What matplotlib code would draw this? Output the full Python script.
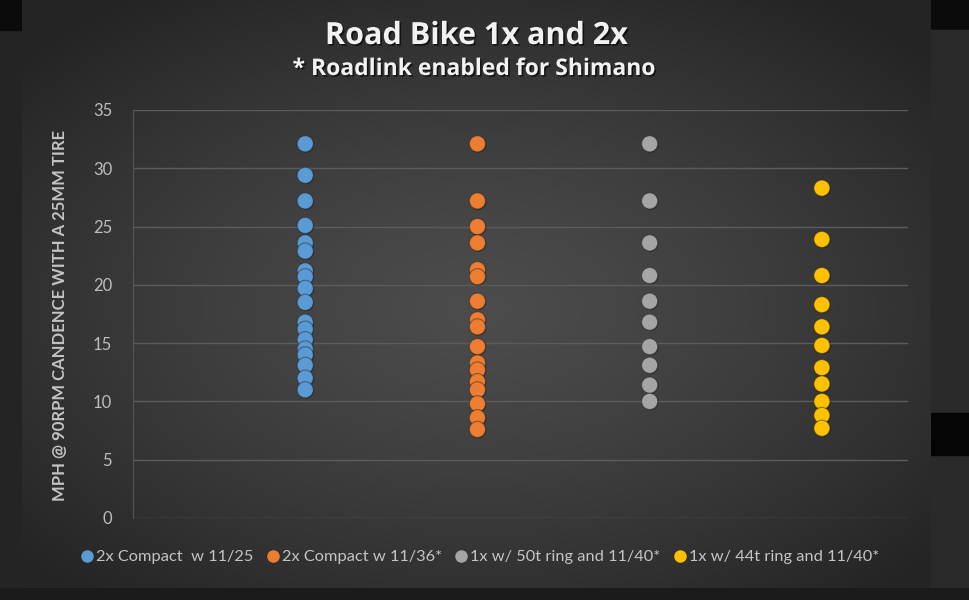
import numpy as np
import matplotlib
matplotlib.use("Agg")
import matplotlib.pyplot as plt
import matplotlib.patheffects as pe
from matplotlib.lines import Line2D
from matplotlib.patches import Rectangle

# ---------------- data ----------------
series_names = ["2x Compact  w 11/25", "2x Compact w 11/36*",
                "1x w/ 50t ring and 11/40*", "1x w/ 44t ring and 11/40*"]
series_x = [1, 2, 3, 4]
compact_11_25 = [32.1, 29.4, 27.2, 25.1, 23.6, 22.9, 21.2, 20.7, 19.7, 18.5,
                 16.8, 16.2, 15.3, 14.5, 14.0, 13.1, 12.0, 11.0]
compact_11_36 = [32.1, 27.2, 25.0, 23.6, 21.3, 20.7, 18.6, 17.0, 16.4, 14.7,
                 13.3, 12.7, 11.7, 11.0, 9.8, 8.6, 7.6]
one_x_50t = [32.1, 27.2, 23.6, 20.8, 18.6, 16.8, 14.7, 13.1, 11.4, 10.0]
one_x_44t = [28.3, 23.9, 20.8, 18.3, 16.4, 14.8, 12.9, 11.5, 10.0, 8.8, 7.7]
series_values = [compact_11_25, compact_11_36, one_x_50t, one_x_44t]
series_colors = ["#5B9BD5", "#ED7D31", "#A5A5A5", "#FFC000"]
y_ticks = [0, 5, 10, 15, 20, 25, 30, 35]

title = "Road Bike 1x and 2x"
subtitle = "* Roadlink enabled for Shimano"
y_label = "MPH @ 90RPM CANDENCE WITH A 25MM TIRE"

FONT = ["Lato", "DejaVu Sans"]
TFONT = ["Open Sans", "DejaVu Sans"]
W, H = 970, 600

fig = plt.figure(figsize=(W / 100, H / 100), dpi=100, facecolor="#242424")

# page background pieces outside the chart panel
def fig_rect(x0, y0, x1, y1, color):
    fig.patches.append(Rectangle((x0 / W, 1 - y1 / H), (x1 - x0) / W, (y1 - y0) / H,
                                 transform=fig.transFigure, color=color, zorder=-10))

fig_rect(0, 0, W, 30, "#0b0b0b")
fig_rect(930, 30, W, 600, "#2a2a2a")
fig_rect(930, 413, W, 455, "#050505")
fig_rect(0, 588, W, 600, "#1b1b1b")

# chart panel with radial gradient
px0, py0, px1, py1 = 22, 0, 931, 588
bg = fig.add_axes([px0 / W, 1 - py1 / H, (px1 - px0) / W, (py1 - py0) / H], zorder=-5)
gx = np.linspace(-1, 1, 400)
gy = np.linspace(-1, 1, 300)
GX, GY = np.meshgrid(gx, gy)
R = np.sqrt((GX * 1.0) ** 2 + ((GY - 0.05) * 1.05) ** 2)
R = np.clip(R / 1.35, 0, 1)
inner = np.array([0x4c, 0x4c, 0x4c]) / 255
outer = np.array([0x24, 0x24, 0x24]) / 255
img = inner[None, None, :] * (1 - R[..., None] ** 1.3) + outer[None, None, :] * (R[..., None] ** 1.3)
bg.imshow(img, aspect="auto", extent=[0, 1, 0, 1], interpolation="bilinear")
bg.set_axis_off()

# plot area
ax = fig.add_axes([133 / W, (H - 518) / H, 775 / W, 408 / H])
ax.set_facecolor("none")
ax.set_xlim(0, 4.5)
ax.set_ylim(0, 35)
ax.set_yticks(y_ticks)
ax.set_yticklabels([str(t) for t in y_ticks], fontfamily=FONT, fontsize=12, color="#bdbdbd")
ax.set_xticks([])
ax.tick_params(axis="y", length=0, pad=15)
ax.grid(axis="y", color="#5c5c5c", linewidth=1.0)
ax.set_axisbelow(True)
for s in ["top", "right", "bottom"]:
    ax.spines[s].set_visible(False)
ax.spines["left"].set_color("#555555")
ax.spines["left"].set_linewidth(0.8)

for xv, vals, col in zip(series_x, series_values, series_colors):
    ax.scatter([xv] * len(vals), vals, s=135, color=col, edgecolors=(0.15, 0.15, 0.15, 0.5),
               linewidths=0.8, zorder=3,
               path_effects=[pe.SimplePatchShadow(offset=(0.6, -0.6), shadow_rgbFace="#1a1a1a", alpha=0.45), pe.Normal()])

fig.text(60 / W, 1 - 315 / H, y_label, rotation=90, ha="center", va="center",
         fontfamily=FONT, fontsize=12, fontweight="bold", color="#c4c4c4")

shadow = [pe.withSimplePatchShadow(offset=(1.2, -1.2), shadow_rgbFace="#000000", alpha=0.6)]
fig.text(476 / W, 1 - 36 / H, title, ha="center", va="center", fontfamily=TFONT,
         fontsize=22, fontweight="bold", color="#f2f2f2", path_effects=shadow)
fig.text(474 / W, 1 - 69 / H, subtitle, ha="center", va="center", fontfamily=TFONT,
         fontsize=16.5, fontweight="bold", color="#f2f2f2", path_effects=shadow)

handles = [Line2D([], [], marker="o", linestyle="none", markersize=8, markerfacecolor=c,
                  markeredgecolor=c) for c in series_colors]
leg = fig.legend(handles, series_names, loc="center", bbox_to_anchor=(479 / W, 1 - 557 / H),
                 ncol=4, frameon=False, handletextpad=0.05, columnspacing=0.7,
                 handlelength=1.0, prop={"family": FONT, "size": 11.8})
for t in leg.get_texts():
    t.set_color("#c4c4c4")

fig.savefig("out.png", dpi=100, facecolor=fig.get_facecolor())
